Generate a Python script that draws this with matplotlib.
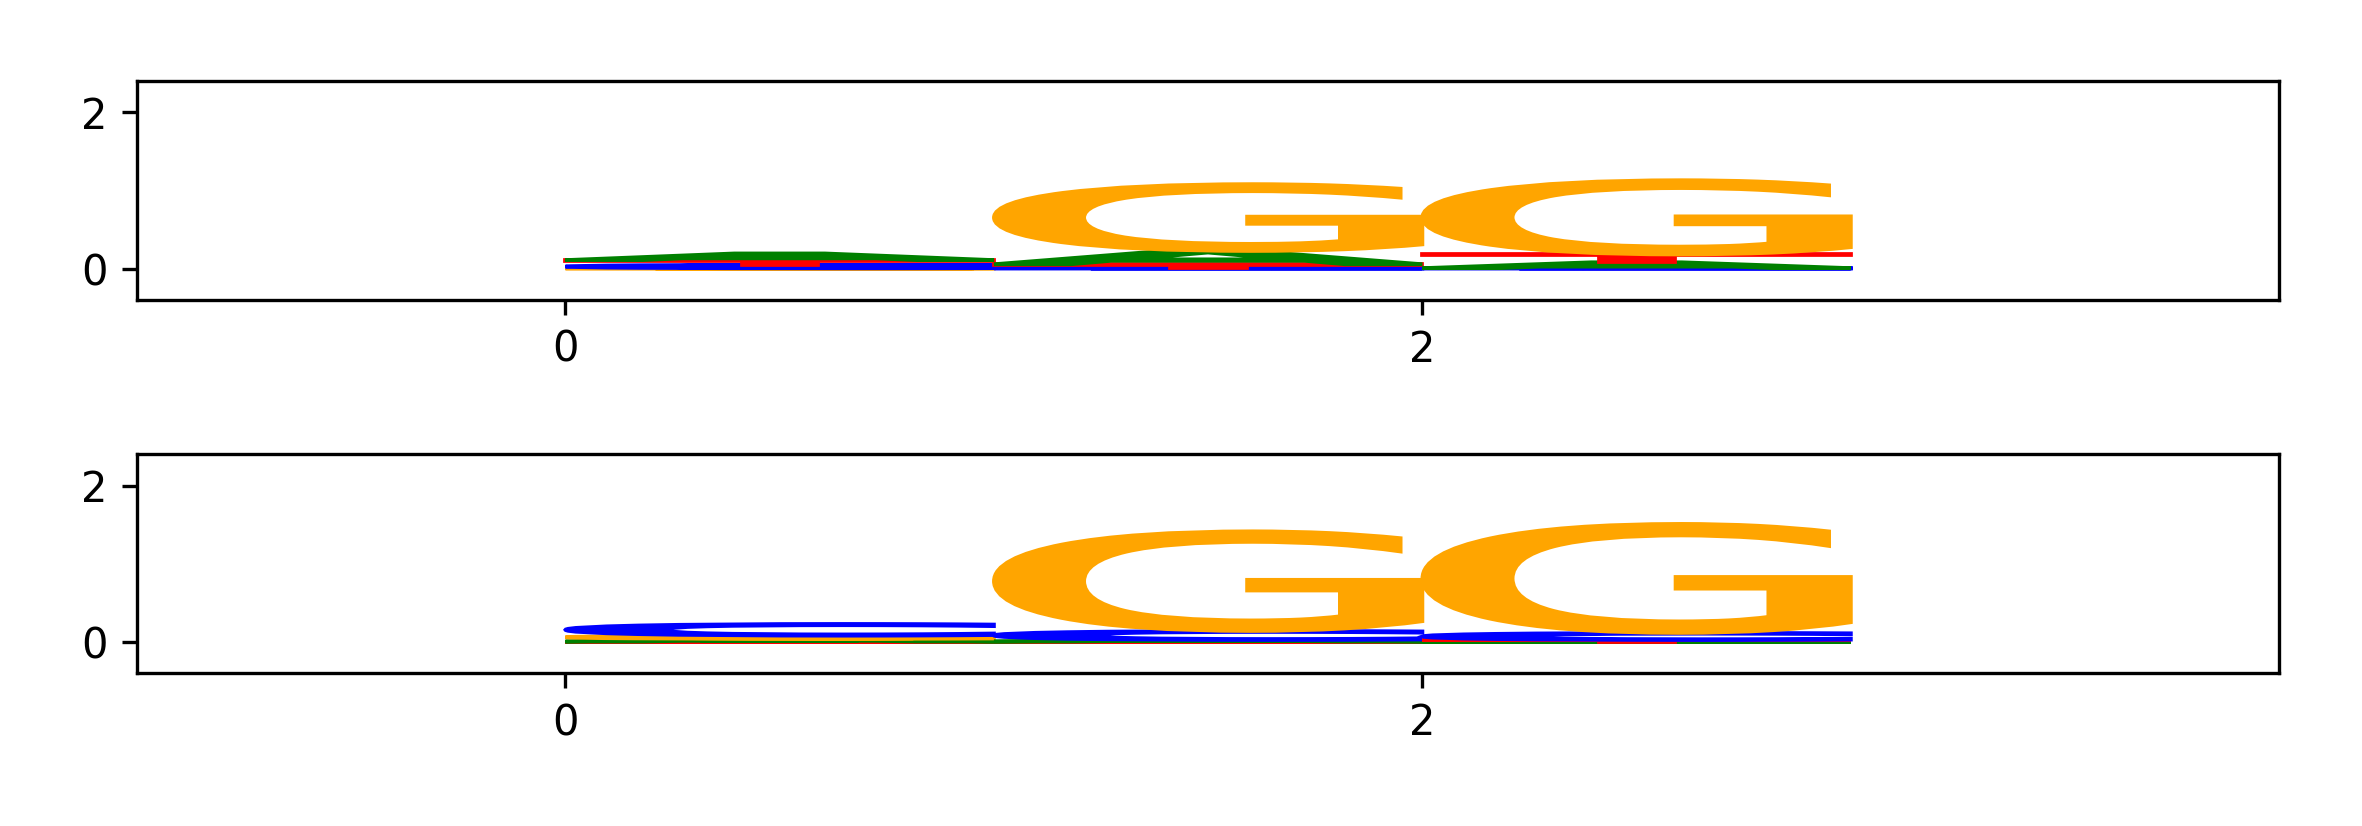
'''
Two stacked sequence logos, one letter glyph per base
'''

import matplotlib
matplotlib.use('Agg')
import matplotlib.pyplot as plt
from matplotlib.font_manager import FontProperties
from matplotlib.patches import PathPatch
from matplotlib.text import TextPath
from matplotlib import transforms


POSITIONS = [0, 1, 2]
BASES = ['A', 'C', 'G', 'T']

# letter heights per position, upper logo
TOP_A = [0.085, 0.17, 0.075]
TOP_C = [0.045, 0.005, 0.005]
TOP_G = [0.003, 0.855, 0.95]
TOP_T = [0.060, 0.05, 0.10]

# letter heights per position, lower logo
BOTTOM_A = [0.035, 0.02, 0.005]
BOTTOM_C = [0.150, 0.115, 0.09]
BOTTOM_G = [0.040, 1.275, 1.395]
BOTTOM_T = [0.005, 0.005, 0.02]

COLORS = {'A': 'green', 'C': 'blue', 'G': 'orange', 'T': 'red'}
FONT = FontProperties(family='DejaVu Sans Mono')


def letter_at(ax, letter, x, y, height):
    '''
    Draw one glyph stretched over [x, x+1] x [y, y+height]
    '''
    path = TextPath((0, 0), letter, size=1, prop=FONT)
    ext = path.get_extents()
    t = transforms.Affine2D().translate(-ext.x0, -ext.y0) \
        .scale(1.0 / ext.width, height / ext.height) \
        .translate(x, y)
    ax.add_patch(PathPatch(path, lw=0.9, fc=COLORS[letter], ec=COLORS[letter],
                           transform=t + ax.transData))


def logo(ax, heights):
    for i, pos in enumerate(POSITIONS):
        column = sorted(((heights[b][i], b) for b in BASES))
        y = 0
        for h, b in column:
            letter_at(ax, b, pos, y, h)
            y += h
    ax.set_xlim(-1, 4)
    ax.set_ylim(-0.4, 2.4)
    ax.set_xticks([0, 2])
    ax.set_yticks([0, 2])


fig, (ax1, ax2) = plt.subplots(2, 1, figsize=(2362 / 300, 826 / 300), dpi=300)
fig.subplots_adjust(left=0.058, right=0.965, top=0.902, bottom=0.185,
                    hspace=0.706)

logo(ax1, {'A': TOP_A, 'C': TOP_C, 'G': TOP_G, 'T': TOP_T})
logo(ax2, {'A': BOTTOM_A, 'C': BOTTOM_C, 'G': BOTTOM_G, 'T': BOTTOM_T})

fig.savefig('out.png', dpi=300)
